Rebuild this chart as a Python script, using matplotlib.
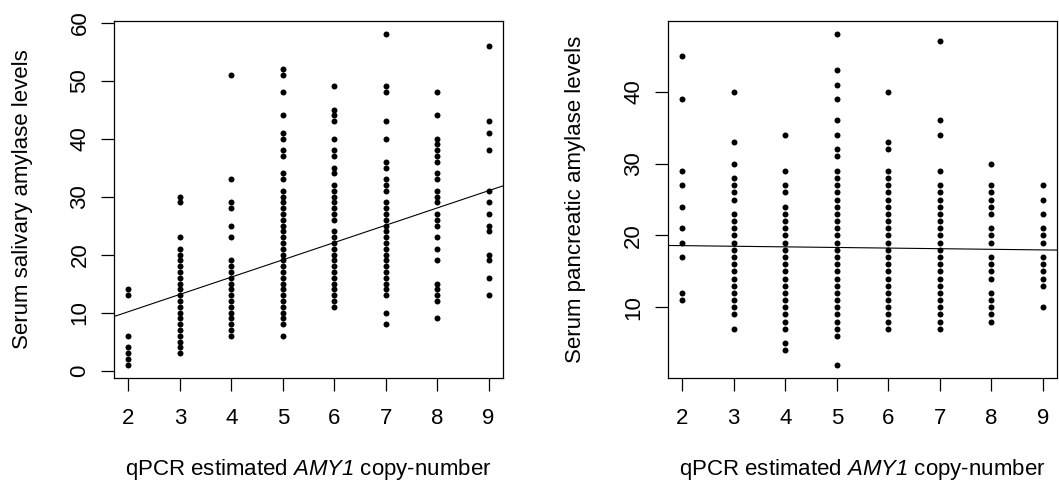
import numpy as np
import matplotlib.pyplot as plt

plt.rcParams['font.family'] = ['Liberation Sans', 'DejaVu Sans']
plt.rcParams['mathtext.fontset'] = 'custom'
plt.rcParams['mathtext.it'] = 'Liberation Sans:italic'
plt.rcParams['mathtext.rm'] = 'Liberation Sans:italic'

copy_numbers = [2, 3, 4, 5, 6, 7, 8, 9]

# serum salivary amylase, one list per AMY1 copy-number
salivary = [
    [14, 13, 6, 4, 3, 2, 1],
    [30, 29, 23, 21, 20, 19, 18, 17, 16, 15, 14, 13, 12, 11, 10, 9, 8, 7, 6, 5, 4, 3],
    [51, 33, 29, 28, 25, 23, 19, 18, 17, 16, 15, 14, 13, 12, 11, 10, 9, 8, 7, 6],
    [52, 51, 48, 44, 41, 40, 38, 37, 34, 33, 31, 30, 29, 28, 27, 26, 25, 24, 23, 22,
     21, 20, 19, 18, 17, 16, 15, 14, 13, 12, 11, 10, 9, 8, 6],
    [49, 45, 44, 43, 40, 38, 37, 35, 34, 32, 31, 30, 29, 28, 27, 26, 24, 23, 22, 21,
     20, 19, 18, 17, 16, 15, 14, 13, 12, 11],
    [58, 49, 48, 43, 40, 36, 35, 33, 32, 31, 29, 28, 27, 26, 25, 24, 23, 22, 21, 20,
     19, 18, 17, 16, 15, 14, 13, 10, 8],
    [48, 44, 40, 39, 38, 37, 36, 34, 33, 31, 30, 29, 27, 26, 25, 23, 21, 19, 15, 14,
     13, 12, 9],
    [56, 43, 41, 38, 31, 29, 27, 25, 24, 20, 19, 16, 13],
]

# serum pancreatic amylase, one list per AMY1 copy-number
pancreatic = [
    [45, 39, 29, 27, 24, 21, 19, 17, 12, 11],
    [40, 33, 30, 28, 27, 26, 25, 23, 22, 21, 20, 19, 18, 17, 16, 15, 14, 13, 12, 11,
     10, 9, 7],
    [34, 29, 27, 26, 24, 23, 22, 21, 20, 19, 18, 17, 16, 15, 14, 13, 12, 11, 10, 9,
     8, 7, 5, 4],
    [48, 43, 41, 39, 36, 34, 32, 31, 29, 28, 27, 26, 25, 24, 23, 22, 21, 20, 19, 18,
     17, 16, 15, 14, 13, 12, 11, 10, 9, 8, 7, 6, 2],
    [40, 33, 32, 29, 28, 27, 26, 25, 24, 23, 22, 21, 20, 19, 18, 17, 16, 15, 14, 13,
     12, 11, 10, 9, 8, 7],
    [47, 36, 34, 29, 27, 26, 25, 24, 23, 22, 21, 20, 19, 18, 17, 16, 15, 14, 13, 12,
     11, 10, 9, 8, 7],
    [30, 27, 26, 25, 24, 23, 21, 20, 19, 17, 16, 15, 14, 12, 11, 10, 9, 8],
    [27, 25, 23, 21, 20, 19, 17, 16, 15, 14, 13, 10],
]

# fitted lines (intercept, slope); overlapping points hide the real weights,
# so the fit over the visible values alone would be off
salivary_fit = (4.2, 2.98)
pancreatic_fit = (18.75, -0.085)

xlabel = "qPCR estimated $AMY1$ copy-number"


def scatter_panel(ax, groups, fit, ylabel, yticks):
    xs, ys = [], []
    for cn, vals in zip(copy_numbers, groups):
        xs += [cn] * len(vals)
        ys += vals
    xs = np.array(xs, dtype=float)
    ys = np.array(ys, dtype=float)

    ax.plot(xs, ys, 'o', color='black', markersize=4.3, markeredgewidth=0)

    # regression line across the whole plot region
    ax.axline((0, fit[0]), slope=fit[1], color='black', lw=0.8)

    # 4% padding on both axes
    xr = xs.max() - xs.min()
    yr = ys.max() - ys.min()
    ax.set_xlim(xs.min() - 0.04 * xr, xs.max() + 0.04 * xr)
    ax.set_ylim(ys.min() - 0.04 * yr, ys.max() + 0.04 * yr)

    ax.set_xticks(copy_numbers)
    ax.set_yticks(yticks)
    ax.tick_params(direction='out', length=9.5, width=0.9, labelsize=16)
    ax.tick_params(axis='x', pad=12)
    ax.tick_params(axis='y', pad=7.5)
    for lab in ax.get_yticklabels():
        lab.set_rotation(90)
        lab.set_va('center')
    for sp in ax.spines.values():
        sp.set_linewidth(0.9)

    ax.set_xlabel(xlabel, fontsize=16, va='center')
    ax.xaxis.set_label_coords(0.5, -0.255)
    ax.set_ylabel(ylabel, fontsize=16, va='center')
    ax.yaxis.set_label_coords(-0.236, 0.5)


fig = plt.figure(figsize=(10.59, 4.86), dpi=100)
ax1 = fig.add_axes([0.1077, 0.2222, 0.3673, 0.7346])
ax2 = fig.add_axes([0.6305, 0.2222, 0.3680, 0.7346])

scatter_panel(ax1, salivary, salivary_fit, "Serum salivary amylase levels",
              [0, 10, 20, 30, 40, 50, 60])
scatter_panel(ax2, pancreatic, pancreatic_fit, "Serum pancreatic amylase levels",
              [10, 20, 30, 40])

fig.savefig("out.png", dpi=100)
